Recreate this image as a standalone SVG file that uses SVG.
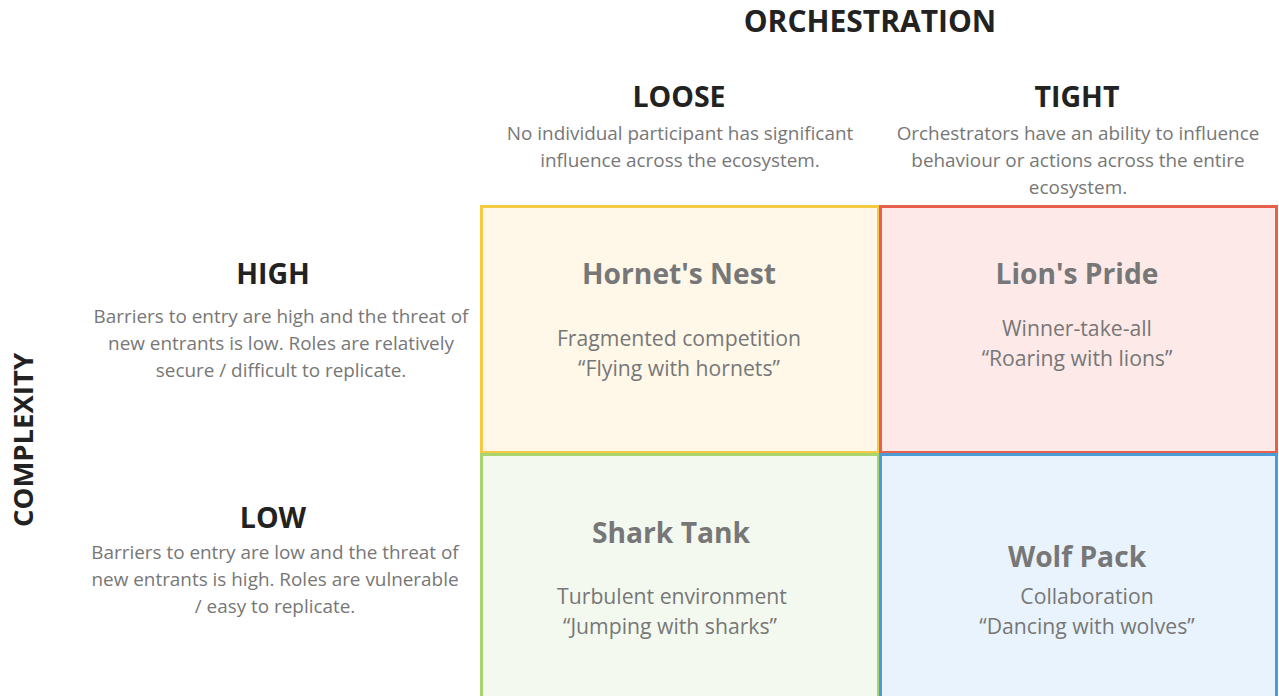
<svg xmlns="http://www.w3.org/2000/svg" width="1279" height="696" viewBox="0 0 1279 696">
  <style>
    text { font-family: "Open Sans", "Noto Sans", "Liberation Sans", sans-serif; text-anchor: middle; }
    .axis { font-size: 30px; font-weight: 700; fill: #222; }
    .vaxis { font-size: 27.5px; font-weight: 700; fill: #222; }
    .head { font-size: 28.5px; font-weight: 700; fill: #222; }
    .desc { font-size: 18.9px; fill: #777; }
    .title { font-size: 28.2px; font-weight: 700; fill: #777; }
    .sub { font-size: 21.2px; fill: #777; }
    .cell { stroke-width: 3; }
  </style>
  <rect width="1279" height="696" fill="#ffffff"/>

  <!-- axis labels -->
  <text class="axis" x="870" y="32">ORCHESTRATION</text>
  <text class="vaxis" transform="translate(33,440) rotate(-90)">COMPLEXITY</text>

  <!-- column headings -->
  <g id="col-loose">
    <text class="head" x="679" y="107">LOOSE</text>
    <text class="desc" x="680" y="140">No individual participant has significant</text>
    <text class="desc" x="680" y="167">influence across the ecosystem.</text>
  </g>
  <g id="col-tight">
    <text class="head" x="1077" y="107">TIGHT</text>
    <text class="desc" x="1078" y="140">Orchestrators have an ability to influence</text>
    <text class="desc" x="1078" y="167">behaviour or actions across the entire</text>
    <text class="desc" x="1078" y="194">ecosystem.</text>
  </g>

  <!-- row headings -->
  <g id="row-high">
    <text class="head" x="273" y="284">HIGH</text>
    <text class="desc" x="281" y="323">Barriers to entry are high and the threat of</text>
    <text class="desc" x="281" y="350">new entrants is low. Roles are relatively</text>
    <text class="desc" x="281" y="377">secure / difficult to replicate.</text>
  </g>
  <g id="row-low">
    <text class="head" x="273" y="528">LOW</text>
    <text class="desc" x="275" y="559">Barriers to entry are low and the threat of</text>
    <text class="desc" x="275" y="586">new entrants is high. Roles are vulnerable</text>
    <text class="desc" x="275" y="613">/ easy to replicate.</text>
  </g>

  <!-- quadrants -->
  <g id="hornets-nest">
    <rect class="cell" x="481.5" y="206.5" width="397" height="246" fill="#fff8e9" stroke="#f6c945"/>
    <text class="title" x="679" y="284">Hornet's Nest</text>
    <text class="sub" x="679" y="346">Fragmented competition</text>
    <text class="sub" x="679" y="376">“Flying with hornets”</text>
  </g>
  <g id="lions-pride">
    <rect class="cell" x="880.5" y="206.5" width="396" height="246" fill="#fde9e7" stroke="#e8604b"/>
    <text class="title" x="1077" y="284">Lion's Pride</text>
    <text class="sub" x="1077" y="336">Winner-take-all</text>
    <text class="sub" x="1077" y="366">“Roaring with lions”</text>
  </g>
  <g id="shark-tank">
    <rect class="cell" x="481.5" y="454.5" width="397" height="250" fill="#f4f9ef" stroke="#a8d56c"/>
    <text class="title" x="671" y="543">Shark Tank</text>
    <text class="sub" x="672" y="604">Turbulent environment</text>
    <text class="sub" x="670" y="634">“Jumping with sharks”</text>
  </g>
  <g id="wolf-pack">
    <rect class="cell" x="880.5" y="454.5" width="396" height="250" fill="#e9f3fd" stroke="#4b9bd6"/>
    <text class="title" x="1077" y="567">Wolf Pack</text>
    <text class="sub" x="1087" y="604">Collaboration</text>
    <text class="sub" x="1087" y="634">“Dancing with wolves”</text>
  </g>
</svg>
